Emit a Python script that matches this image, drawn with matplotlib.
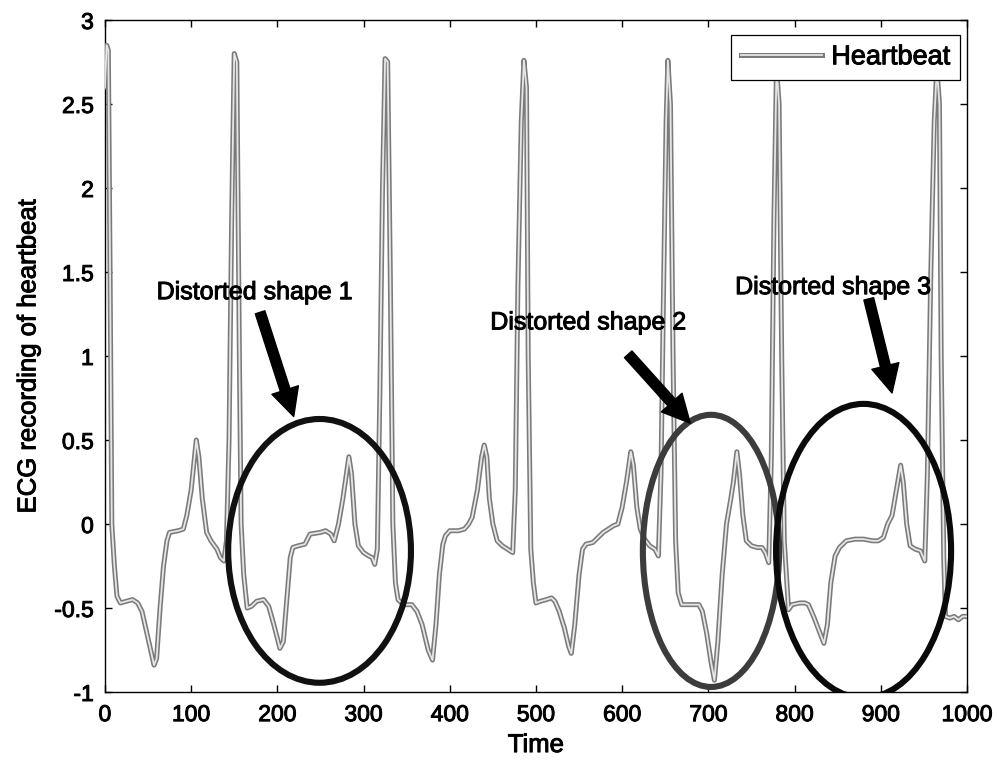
import matplotlib
matplotlib.use("Agg")
import matplotlib.pyplot as plt
import matplotlib.patheffects as pe
from matplotlib.patches import Ellipse, FancyArrowPatch
from matplotlib.ticker import MultipleLocator, FuncFormatter

# ECG trace
time_pts = [0, 2, 4, 6, 8, 11, 14, 18, 25, 32, 38, 43, 50, 57, 60, 64, 68, 72, 75, 85, 91, 95, 100, 106, 109,
            113, 118, 123, 130, 134, 138, 141, 144, 147, 150, 153, 156, 158, 161, 165, 170, 176, 184, 190, 196,
            203, 207, 211, 215, 218, 224, 232, 238, 250, 256, 262, 266, 271, 276, 283, 286, 290, 294, 300, 306,
            310, 313, 316, 319, 322, 325, 328, 331, 334, 337, 340, 346, 356, 362, 368, 375, 380, 384, 388, 392,
            395, 400, 410, 417, 422, 426, 432, 437, 440, 443, 446, 450, 455, 461, 467, 473, 476, 479, 483, 486,
            489, 491, 494, 497, 500, 505, 512, 518, 522, 527, 533, 538, 541, 545, 550, 554, 558, 566, 572, 578,
            584, 590, 595, 600, 605, 610, 613, 617, 621, 626, 632, 638, 642, 645, 648, 651, 653, 656, 659, 662,
            665, 669, 680, 689, 693, 698, 703, 707, 711, 716, 721, 726, 729, 733, 736, 740, 744, 750, 757, 762,
            766, 770, 773, 776, 779, 782, 785, 788, 793, 797, 806, 812, 816, 822, 828, 834, 838, 842, 847, 852,
            860, 870, 880, 890, 897, 903, 908, 913, 918, 923, 926, 930, 934, 940, 946, 951, 954, 958, 962, 965,
            968, 970, 973, 975, 980, 985, 990, 995, 1000]
ecg_pts = [2.6, 2.85, 2.82, 1.5, 0.0, -0.25, -0.43, -0.47, -0.46, -0.45, -0.47, -0.52, -0.68, -0.84, -0.8, -0.5,
           -0.25, -0.1, -0.05, -0.04, -0.03, 0.05, 0.2, 0.5, 0.4, 0.15, -0.05, -0.1, -0.15, -0.2, -0.22, -0.1,
           0.5, 1.8, 2.8, 2.75, 1.0, 0.0, -0.3, -0.5, -0.49, -0.46, -0.45, -0.49, -0.6, -0.74, -0.7, -0.45,
           -0.2, -0.14, -0.13, -0.12, -0.06, -0.05, -0.04, -0.06, -0.1, 0.0, 0.15, 0.4, 0.3, 0.0, -0.13, -0.17,
           -0.19, -0.2, -0.24, -0.15, 0.8, 2.0, 2.77, 2.75, 1.5, 0.0, -0.35, -0.45, -0.48, -0.48, -0.52, -0.6,
           -0.75, -0.81, -0.6, -0.3, -0.12, -0.07, -0.04, -0.04, -0.03, 0.0, 0.04, 0.2, 0.4, 0.47, 0.4, 0.15,
           0.0, -0.1, -0.13, -0.15, -0.17, 0.2, 1.4, 2.4, 2.76, 2.6, 1.0, -0.15, -0.35, -0.47, -0.46, -0.45,
           -0.44, -0.46, -0.52, -0.62, -0.73, -0.77, -0.6, -0.3, -0.15, -0.12, -0.11, -0.08, -0.05, -0.03, -0.01,
           0.0, 0.1, 0.25, 0.43, 0.35, 0.1, -0.03, -0.09, -0.13, -0.15, -0.19, 0.3, 1.4, 2.4, 2.76, 2.5, 1.0,
           -0.1, -0.41, -0.48, -0.48, -0.48, -0.52, -0.65, -0.82, -0.93, -0.7, -0.3, 0.0, 0.15, 0.25, 0.43, 0.3,
           0.05, -0.1, -0.13, -0.14, -0.14, -0.17, -0.23, 0.4, 1.8, 2.72, 2.5, 1.0, -0.1, -0.51, -0.48, -0.47,
           -0.47, -0.48, -0.55, -0.63, -0.71, -0.6, -0.35, -0.19, -0.14, -0.1, -0.09, -0.09, -0.1, -0.1, -0.08,
           0.0, 0.05, 0.2, 0.35, 0.25, 0.0, -0.13, -0.15, -0.16, -0.22, 0.3, 1.5, 2.4, 2.72, 2.5, 1.0, -0.2,
           -0.55, -0.56, -0.55, -0.57, -0.55, -0.55]

# distorted regions: centre time, centre value, width, height, edge colour
ell_t = [249, 703, 880]
ell_v = [-0.16, -0.16, -0.16]
ell_w = [212, 158, 203]
ell_h = [1.57, 1.62, 1.75]
ell_c = ['#111111', '#3c3c3c', '#0a0a0a']

labels = ['Distorted shape 1', 'Distorted shape 2', 'Distorted shape 3']
label_t = [60, 447, 731]
label_v = [1.38, 1.20, 1.41]
arrow_from = [(180, 1.26), (607, 1.01), (886, 1.34)]
arrow_to = [(219, 0.64), (679, 0.60), (913, 0.78)]

plt.rcParams['font.family'] = ['Liberation Sans', 'DejaVu Sans']
plt.rcParams['axes.unicode_minus'] = False

# scanned print look: a thin stroke thickens the letters a bit
heavy = [pe.withStroke(linewidth=0.7, foreground='black')]

fig = plt.figure(figsize=(9.99, 7.66), dpi=100)
fig.set_facecolor('white')
ax = fig.add_axes([0.105, 0.0966, 0.863, 0.8773])

ax.plot(time_pts, ecg_pts, color='#e6e6e6', linewidth=1.3, label='Heartbeat', zorder=3,
        path_effects=[pe.Stroke(linewidth=3.6, foreground='#7a7a7a'), pe.Normal()])

for t, v, w, h, c in zip(ell_t, ell_v, ell_w, ell_h, ell_c):
    ax.add_patch(Ellipse((t, v), w, h, fill=False, edgecolor=c, linewidth=4.4, zorder=4))

for s, t, v in zip(labels, label_t, label_v):
    ax.text(t, v, s, fontsize=18, color='black', va='center', ha='left', zorder=5, path_effects=heavy)

for a, b in zip(arrow_from, arrow_to):
    ax.add_patch(FancyArrowPatch(a, b, arrowstyle='simple,head_length=1.0,head_width=1.0,tail_width=0.36',
                                 mutation_scale=20, color='black', shrinkA=0, shrinkB=0, zorder=5))

### axis ranges and ticks, matlab style box
ax.set_xlim(0, 1000)
ax.set_ylim(-1, 3)
ax.xaxis.set_major_locator(MultipleLocator(100))
ax.yaxis.set_major_locator(MultipleLocator(0.5))
ax.yaxis.set_major_formatter(FuncFormatter(lambda y, p: '%g' % y))
ax.tick_params(direction='in', length=5, width=1, top=True, right=True, labelsize=16.5, pad=8)
for lab in ax.get_xticklabels() + ax.get_yticklabels():
    lab.set_path_effects(heavy)
for s in ['top', 'right', 'bottom', 'left']:
    ax.spines[s].set_linewidth(1.0)

ax.set_xlabel('Time', fontsize=18.5, labelpad=5, path_effects=heavy)
ax.set_ylabel('ECG recording of heartbeat', fontsize=18.5, labelpad=10, path_effects=heavy)

leg = ax.legend(loc='upper right', bbox_to_anchor=(0.992, 0.978), borderaxespad=0, fontsize=19.5,
                frameon=True, fancybox=False, edgecolor='black', framealpha=1, handlelength=3.0,
                handletextpad=0.35, borderpad=0.35)
leg.get_frame().set_linewidth(0.9)
leg.set_zorder(10)
for txt in leg.get_texts():
    txt.set_path_effects(heavy)

fig.savefig('out.png', dpi=100)
